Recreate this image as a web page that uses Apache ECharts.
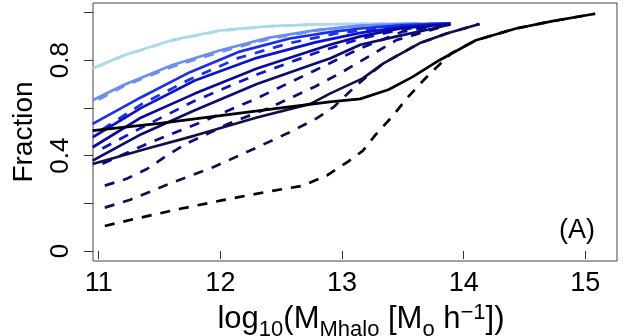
<!DOCTYPE html>
<html>
<head>
<meta charset="utf-8">
<script src="https://cdn.jsdelivr.net/npm/echarts@6/dist/echarts.min.js"></script>
<style>html,body{margin:0;padding:0;background:#fff}#c{width:625px;height:336px}</style>
</head>
<body>
<div id="c"></div>
<script>
// Tick values / labels
const xTicks = [11, 12, 13, 14, 15];
const yTicks = [0, 0.2, 0.4, 0.6, 0.8, 1.0];
const yLabels = [0, 0.4, 0.8];

// Series names and colours
const groupNames = ['lightblue', 'cornflower', 'blue', 'mediumblue', 'darkblue', 'navy', 'darknavy', 'black'];
const groupColors = ['#add8e6', '#6b8ef0', '#1a2ef0', '#0a14d0', '#0a0a9a', '#0c0c70', '#101048', '#000000'];

// Solid curves [log10 M, fraction]
const solid_lightblue = [[10.95,0.765],[11.2,0.82],[11.6,0.884],[12.0,0.925],[12.4,0.943],[12.8,0.95],[13.2,0.953],[13.62,0.955]];
const solid_cornflower = [[10.95,0.632],[11.2,0.695],[11.6,0.779],[12.0,0.842],[12.4,0.895],[12.8,0.927],[13.15,0.945],[13.5,0.952],[13.89,0.955]];
const solid_blue = [[10.95,0.533],[11.35,0.645],[11.75,0.75],[12.15,0.835],[12.57,0.891],[12.9,0.918],[13.15,0.933],[13.5,0.947],[13.89,0.955]];
const solid_mediumblue = [[10.95,0.477],[11.35,0.6],[11.79,0.715],[12.3,0.81],[12.78,0.875],[13.15,0.915],[13.5,0.94],[13.89,0.953]];
const solid_darkblue = [[10.95,0.435],[11.35,0.56],[11.79,0.66],[12.3,0.765],[12.78,0.845],[12.9,0.865],[13.15,0.9],[13.5,0.935],[13.89,0.952]];
const solid_navy = [[10.95,0.379],[11.35,0.49],[11.79,0.59],[12.3,0.7],[12.78,0.786],[12.9,0.807],[13.15,0.865],[13.45,0.9],[13.72,0.93],[13.89,0.95]];
const solid_darknavy = [[10.95,0.365],[11.4,0.43],[11.79,0.484],[12.3,0.56],[12.74,0.617],[12.9,0.66],[13.17,0.724],[13.34,0.787],[13.64,0.872],[13.86,0.912],[14.13,0.952]];
const solid_black = [[10.95,0.505],[11.5,0.535],[12.0,0.568],[12.5,0.6],[12.9,0.625],[13.15,0.638],[13.38,0.676],[13.58,0.73],[13.8,0.8],[14.1,0.884],[14.43,0.933],[14.73,0.964],[15.08,0.995]];

// Dashed curves
const dash_lightblue = [[11.0,0.775],[11.2,0.818],[11.6,0.882],[12.0,0.923],[12.4,0.942],[12.8,0.95],[13.2,0.953],[13.62,0.955]];
const dash_cornflower = [[11.0,0.635],[11.2,0.69],[11.6,0.772],[12.0,0.835],[12.4,0.89],[12.8,0.925],[13.15,0.944],[13.5,0.952],[13.89,0.955]];
const dash_blue = [[11.03,0.51],[11.35,0.615],[11.75,0.72],[12.15,0.81],[12.57,0.872],[12.95,0.912],[13.4,0.94],[13.89,0.955]];
const dash_mediumblue = [[11.03,0.43],[11.4,0.53],[11.79,0.63],[12.3,0.74],[12.78,0.83],[13.15,0.89],[13.5,0.93],[13.89,0.952]];
const dash_darkblue = [[11.03,0.366],[11.4,0.45],[11.84,0.54],[12.3,0.64],[12.78,0.758],[13.15,0.85],[13.5,0.92],[13.89,0.952]];
const dash_navy = [[11.05,0.274],[11.23,0.303],[11.4,0.345],[11.56,0.4],[11.72,0.45],[11.89,0.49],[12.05,0.53],[12.4,0.6],[12.78,0.69],[13.0,0.75],[13.2,0.81],[13.45,0.885],[13.72,0.925],[13.89,0.95]];
const dash_darknavy = [[11.05,0.182],[11.26,0.215],[11.61,0.288],[11.94,0.351],[12.24,0.42],[12.57,0.498],[12.79,0.556],[12.93,0.603],[13.06,0.667],[13.2,0.73],[13.34,0.787],[13.64,0.872],[13.86,0.912],[14.13,0.952]];
const dash_black = [[11.05,0.105],[11.3,0.135],[11.67,0.177],[12.02,0.213],[12.38,0.248],[12.68,0.274],[12.88,0.318],[13.05,0.375],[13.17,0.42],[13.28,0.49],[13.42,0.568],[13.53,0.639],[13.67,0.716],[13.78,0.772],[13.9,0.83],[14.1,0.884],[14.43,0.933],[14.73,0.964],[15.08,0.995]];

const solids = [solid_lightblue, solid_cornflower, solid_blue, solid_mediumblue, solid_darkblue, solid_navy, solid_darknavy, solid_black];
const dashes = [dash_lightblue, dash_cornflower, dash_blue, dash_mediumblue, dash_darkblue, dash_navy, dash_darknavy, dash_black];

const panelLabel = '(A)';

const series = [];
for (let i = 0; i < groupNames.length; i++) {
  series.push({
    name: groupNames[i] + ' solid', type: 'line', data: solids[i], showSymbol: false, silent: true,
    lineStyle: { color: groupColors[i], width: 2.7, type: 'solid' }, z: 2 + i
  });
  series.push({
    name: groupNames[i] + ' dashed', type: 'line', data: dashes[i], showSymbol: false, silent: true,
    lineStyle: { color: groupColors[i], width: 2.7, type: [10, 9] }, z: 2 + i
  });
}

const chart = echarts.init(document.getElementById('c'), null, { renderer: 'canvas' });
const font = 'Liberation Sans, Arial, sans-serif';
chart.setOption({
  animation: false,
  backgroundColor: '#ffffff',
  grid: { left: 93, right: 8, top: 3, bottom: 75, show: true, borderColor: '#444', borderWidth: 1,
    backgroundColor: 'transparent', containLabel: false, outerBoundsMode: 'none' },
  xAxis: {
    type: 'value', min: 10.953, max: 15.26,
    axisLine: { show: false },
    splitLine: { show: false },
    axisTick: { show: true, inside: false, length: 8, lineStyle: { color: '#333', width: 1 }, customValues: xTicks },
    axisLabel: { show: true, customValues: xTicks, fontSize: 27, color: '#000', fontFamily: font, margin: 9 },
    name: '{m|log}{s|10}{m|(M}{s|Mhalo}{m| [M}{s|o}{m| h}{p|−1}{m|])}',
    nameLocation: 'middle', nameGap: 26,
    nameTextStyle: {
      fontFamily: font, color: '#000', padding: [0, 0, 0, 12],
      rich: {
        m: { fontSize: 31, fontFamily: font, color: '#000', verticalAlign: 'bottom', lineHeight: 33 },
        s: { fontSize: 22, fontFamily: font, color: '#000', verticalAlign: 'bottom', lineHeight: 25, padding: [0,0,-6,0] },
        p: { fontSize: 22, fontFamily: font, color: '#000', verticalAlign: 'top', lineHeight: 22, padding: [0,0,14,0] }
      }
    }
  },
  yAxis: {
    type: 'value', min: -0.042, max: 1.04,
    axisLine: { show: false },
    splitLine: { show: false },
    axisTick: { show: true, length: 9, lineStyle: { color: '#333', width: 1 }, customValues: yTicks },
    axisLabel: { show: true, customValues: yLabels, rotate: 90, fontSize: 26, color: '#000', fontFamily: font, margin: 19,
      formatter: v => String(v) },
    name: 'Fraction', nameLocation: 'middle', nameGap: 55,
    nameTextStyle: { fontSize: 28, fontFamily: font, color: '#000' }
  },
  graphic: [{
    type: 'text', left: 559, top: 217,
    style: { text: panelLabel, fontSize: 27, fontFamily: font, fill: '#000' }
  }],
  series: series
});
</script>
</body>
</html>
